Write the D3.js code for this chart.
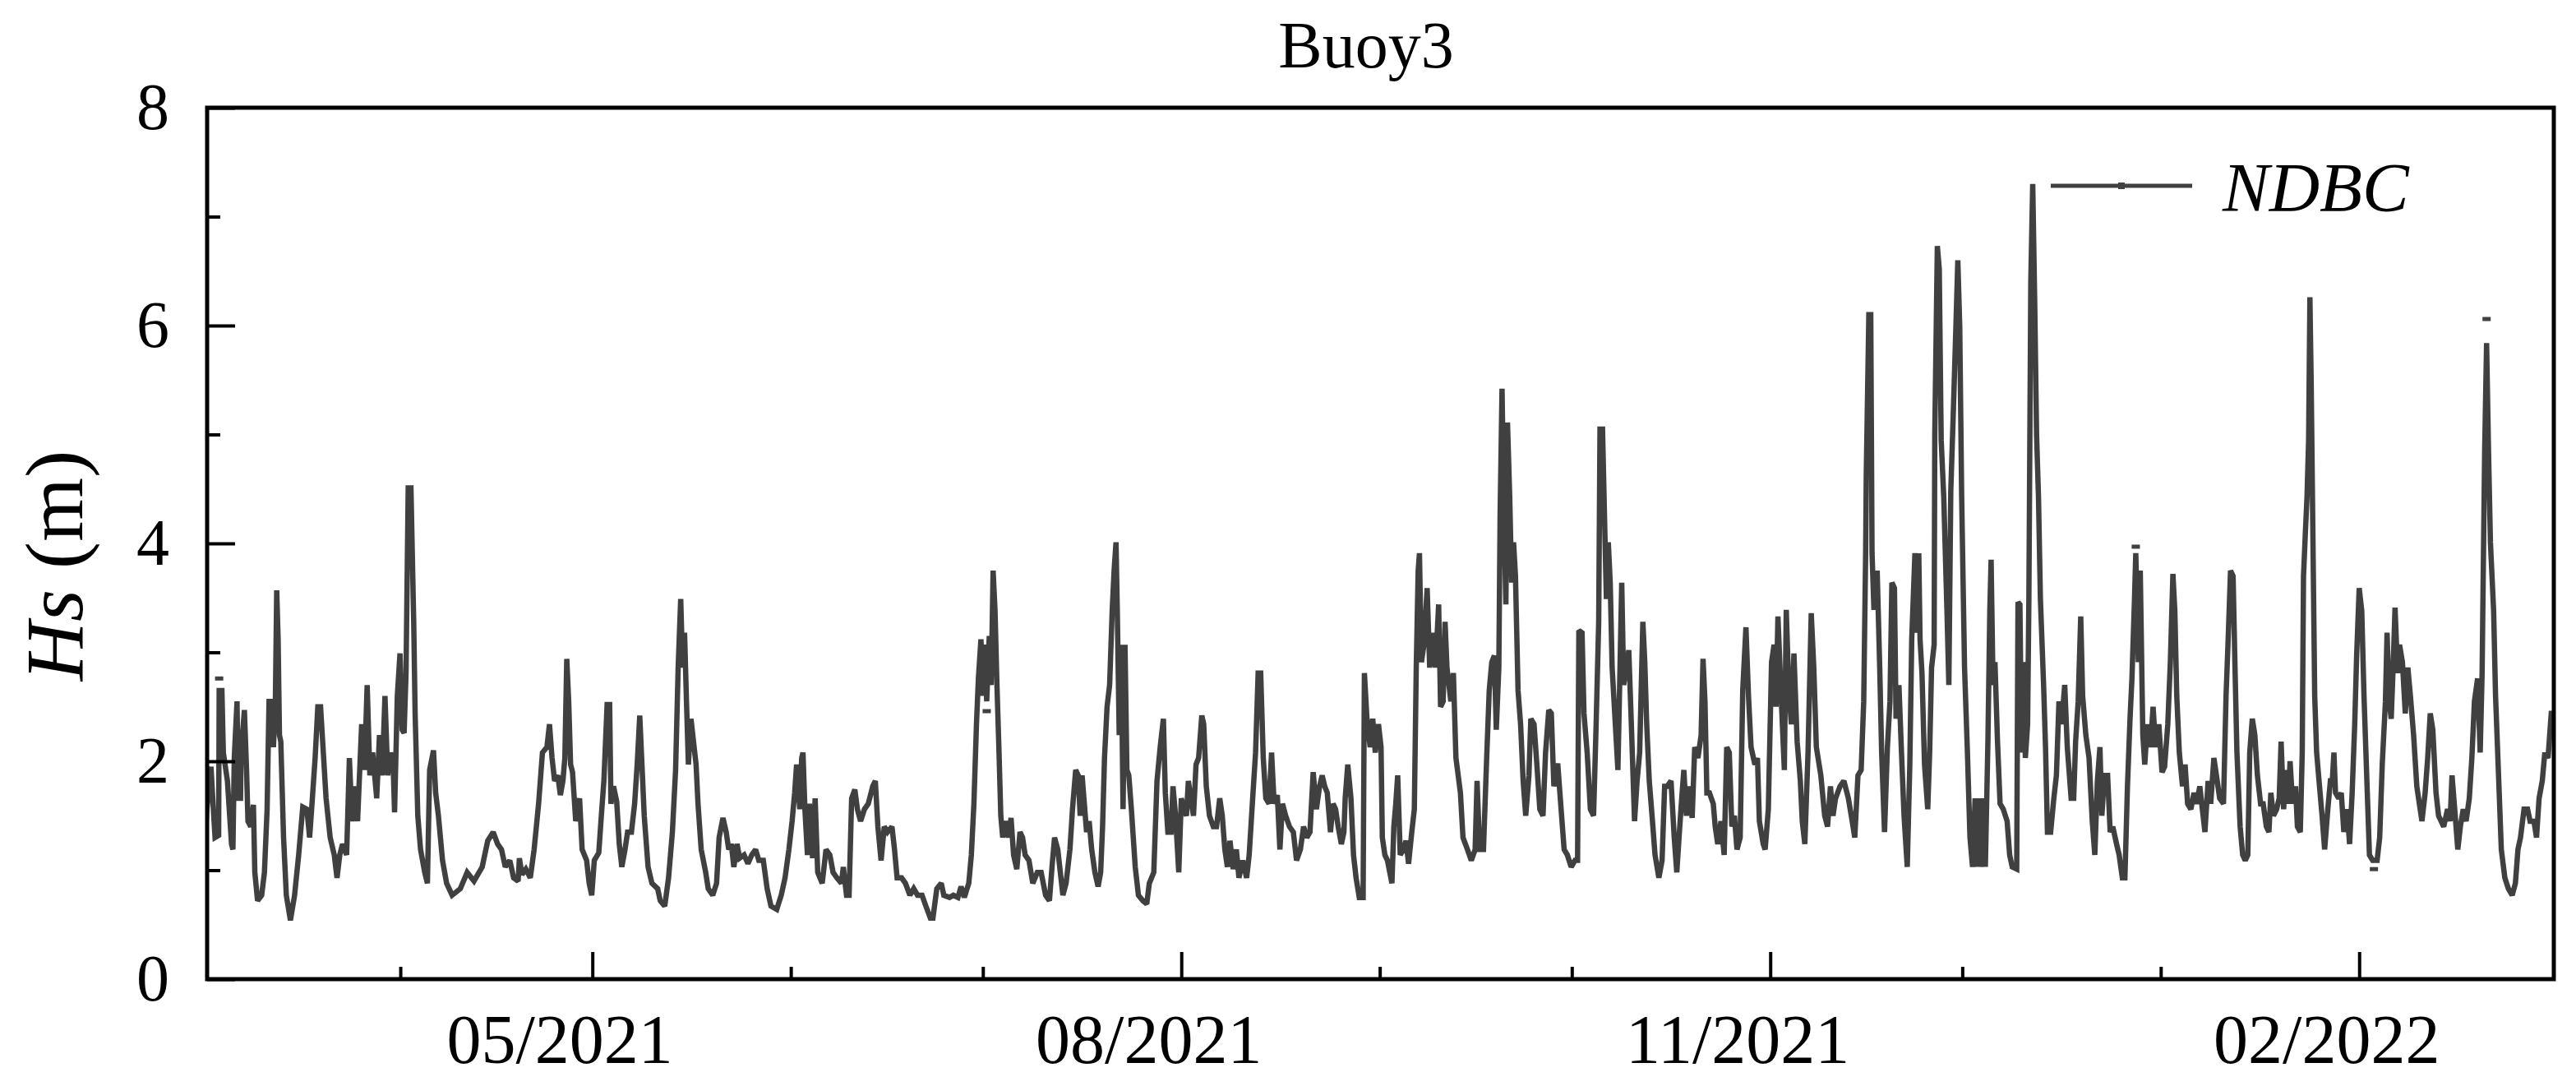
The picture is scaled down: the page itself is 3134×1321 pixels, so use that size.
<!DOCTYPE html>
<html><head><meta charset="utf-8">
<script src="https://cdn.jsdelivr.net/npm/d3@7/dist/d3.min.js"></script>
<style>
body{margin:0;background:#fff}
svg{display:block}
text{font-family:"Liberation Serif","Times New Roman",serif;fill:#000}
</style></head>
<body><svg id="chart" width="3134" height="1321"></svg>
<script>
// ---- data (day offsets from baseDate, significant wave height in m) ----
const baseDate = Date.UTC(2021, 2, 1);
const title = "Buoy3";
const seriesName = "NDBC";
const yMajorTicks = [0, 2, 4, 6, 8];
const yMinorTicks = [1, 3, 5, 7];
const xLabelFormat = "%m/%Y";

const seg1Days = [0.35,0.78,1.42,1.85,2.06,2.62,2.70,3.13,3.35,3.99,4.63,4.85,5.06,5.49,5.70,6.04,6.13,6.64,6.98,7.20,7.63,8.05,8.27,8.70,9.34,9.77,10.19,10.49,10.92,11.18,11.48,11.69,11.91,12.12,12.33,12.76,13.19,13.83,14.48,15.12,15.76,16.40,16.83,17.26,17.69,18.11,18.54,18.97,19.40,20.04,20.68,21.11,21.54,21.97,22.61,23.04,23.46,23.89,24.32,24.96,25.39,25.82,26.24,26.67,27.31,27.74,28.17,28.60,29.03,29.46,29.88,30.10,30.53,30.95,31.29,31.59,31.89,32.23,32.66,33.09,33.31,33.73,34.16,34.81,35.23,35.58,36.18,36.52,36.95,37.59,38.23,39.09,40.37,41.44,42.51,43.79,44.65];
const seg1Hs   = [1.14,1.56,1.95,1.50,1.30,1.32,2.65,2.65,2.08,1.82,1.24,1.19,2.03,2.55,1.66,1.66,2.08,2.47,1.92,1.45,1.40,1.60,0.98,0.72,0.77,0.98,1.56,2.55,2.55,2.13,2.55,3.57,3.12,2.24,2.18,1.30,0.77,0.54,0.77,1.14,1.58,1.56,1.30,1.66,2.03,2.50,2.50,2.08,1.66,1.30,1.14,0.93,1.14,1.24,1.14,2.03,1.45,1.77,1.45,2.34,1.92,2.70,1.87,2.08,1.66,2.24,1.87,2.60,1.87,2.08,1.97,1.53,2.60,2.99,2.29,2.26,2.81,4.51,4.51,3.28,2.44,1.50,1.19,0.98,0.88,1.92,2.10,1.71,1.50,1.09,0.88,0.77,0.83,0.98,0.90,1.03,1.27];

const seg2Days = [45.5,46.2,46.8,47.4,48.1,48.7,49.4,49.6,50.0,50.6,51.3,51.9,52.6,53.2,53.9,54.3,54.7,55.1,55.6,56.0,56.4,56.7,57.0,57.3,57.6,57.9,58.4,59.0,59.4,60.1,60.5,60.9,61.3,62.0,62.4,62.8,63.3,63.7,63.9,64.3,64.8,65.2,65.6,66.1,66.5,67.1,67.6,68.0,68.4,68.7,69.1,69.7,70.3,71.2,71.6,72.3,72.9,73.5,74.0,74.4,74.8,75.1,75.4,75.7,76.0,76.4,76.8,77.2,77.5,78.0,78.7,79.1,79.8,80.4,80.8,81.4,81.9,82.3,82.7,83.1,83.6,84.0,84.7,85.3,85.9,86.5,87.0,87.7,88.3,88.9,89.8,90.5,91.1];
const seg2Hs   = [1.35,1.24,1.19,1.03,1.09,0.93,0.90,1.11,0.96,1.01,0.93,1.19,1.61,2.08,2.13,2.34,2.03,1.82,1.87,1.69,1.82,2.03,2.94,2.55,1.97,1.90,1.45,1.66,1.19,1.09,0.88,0.77,1.09,1.16,1.50,1.82,2.52,2.52,1.61,1.77,1.63,1.24,1.03,1.19,1.35,1.35,1.61,1.97,2.42,2.03,1.50,1.03,0.88,0.83,0.72,0.67,0.93,1.35,1.92,2.86,3.49,2.86,3.18,2.55,1.97,2.39,2.18,1.97,1.61,1.19,0.98,0.83,0.77,0.88,1.30,1.48,1.35,1.19,1.24,1.03,1.24,1.11,1.14,1.06,1.14,1.19,1.09,1.09,0.83,0.67,0.64,0.77,0.93];

const seg3Days = [91.7,92.2,92.6,92.9,93.4,93.7,93.9,94.2,94.6,94.9,95.4,95.8,96.2,96.9,97.5,98.1,98.6,99.2,99.9,100.2,100.7,101.1,101.5,102.0,102.4,102.9,103.5,104.1,104.8,105.2,105.6,106.1,106.6,107.1,107.8,108.2,108.6,109.3,109.9,110.6,111.2,111.8,112.5,113.1,113.8,114.2,114.8,115.5,115.9,116.8,117.4,118.1,118.6,119.1,119.8,120.2,120.6,121.0,121.3,121.7,122.0,122.3,122.6,123.0,123.3,123.6,123.9,124.2,124.5,124.8,125.1,125.5,126.0,126.4,126.8,127.3,127.8,128.2,128.6,129.2,129.8,130.5,131.1,131.8,132.4,132.8,133.2,133.7,134.1,134.5,135.0,135.6,136.0,136.5,136.9,137.2,137.5];
const seg3Hs   = [1.19,1.45,1.71,1.97,1.56,2.03,2.08,1.56,1.14,1.61,1.11,1.66,0.98,0.88,1.19,1.14,0.98,0.93,0.88,1.03,0.77,0.77,1.66,1.74,1.56,1.45,1.56,1.61,1.77,1.82,1.40,1.09,1.40,1.35,1.40,1.19,0.93,0.93,0.88,0.77,0.83,0.77,0.77,0.67,0.56,0.56,0.83,0.88,0.77,0.75,0.77,0.75,0.85,0.75,0.88,1.14,1.61,2.34,2.76,3.12,2.60,3.07,2.55,3.15,2.70,3.75,3.38,2.70,2.13,1.50,1.30,1.45,1.30,1.48,1.14,1.01,1.35,1.30,1.14,1.09,0.88,0.98,0.98,0.77,0.72,1.03,1.30,1.19,0.98,0.77,0.88,1.19,1.56,1.92,1.87,1.50,1.87];

const seg4Days = [138.2,138.6,139.0,139.5,140.0,140.4,140.7,141.0,141.4,141.8,142.2,142.5,142.8,143.0,143.3,143.6,143.9,144.2,144.5,144.8,145.2,145.8,146.3,147.0,147.6,148.0,148.7,149.2,149.7,150.2,150.5,150.9,151.4,151.7,152.1,152.6,153.0,153.4,153.8,154.1,154.6,154.9,155.3,155.7,156.2,156.5,156.9,157.4,158.0,158.5,159.0,159.4,159.8,160.2,160.6,161.1,161.6,162.0,162.6,163.2,163.6,164.2,164.6,165.0,165.4,165.8,166.2,166.7,167.1,167.5,168.0,168.4,168.8,169.3,169.9,170.5,171.0,171.6,172.1,172.6,173.1,173.6,174.1,174.6,175.0,175.4,175.8,176.3,176.7,177.1,177.5,178.0,178.4,178.6,179.0,179.5,179.9,180.3,180.8,181.4,181.6,182.0,182.5,182.9,183.3,183.8];
const seg4Hs   = [1.35,1.45,1.19,0.98,0.85,0.98,1.40,2.03,2.50,2.70,3.38,3.75,4.01,3.38,2.24,3.07,1.56,3.07,1.92,1.87,1.56,1.03,0.77,0.72,0.69,0.88,0.98,1.82,2.13,2.39,1.71,1.35,1.35,1.77,1.50,0.98,1.66,1.56,1.50,1.82,1.61,1.50,1.97,2.03,2.42,2.34,1.77,1.50,1.40,1.40,1.66,1.50,1.19,1.03,1.27,1.01,1.19,0.93,1.09,0.93,1.14,1.71,2.08,2.81,2.81,2.03,1.66,1.61,2.08,1.61,1.69,1.19,1.61,1.50,1.40,1.35,1.09,1.19,1.40,1.30,1.35,1.90,1.56,1.77,1.87,1.77,1.71,1.35,1.61,1.56,1.40,1.24,1.35,1.66,1.97,1.66,1.14,0.93,0.75,0.75,2.81,2.39,2.13,2.39,2.08,2.34];

const seg5Days = [184.2,184.4,184.8,185.2,185.9,186.2,186.5,186.8,187.2,187.7,188.1,188.5,189.0,189.4,189.7,190.0,190.2,190.5,190.9,191.4,191.8,192.3,192.7,193.2,193.5,193.9,194.2,194.5,195.1,195.5,195.9,196.6,197.0,197.7,198.3,198.9,199.2,199.6,200.2,200.7,201.1,201.5,201.9,202.2,202.6,202.8,203.1,203.4,203.7,203.95,204.3,204.6,204.9,205.2,205.6,206.0,206.4,206.8,207.3,207.6,208.1,208.6,209.0,209.5,209.9,210.4,210.8,211.2,211.8,212.2,212.8,213.3,213.9,214.5,214.9,215.1,215.6,215.9,216.4,216.9,217.4,217.8,218.2,218.4,218.8,219.1,219.4,219.7,220.0,220.3,220.8,221.2,221.8,222.1,222.5,222.9,223.3,223.8,224.2,224.6,225.1,225.4,225.7,226.1,226.6,227.0,227.6,228.1,228.5,228.9,229.5,230.0];
const seg5Hs   = [2.13,1.30,1.14,1.09,0.88,1.40,1.61,1.87,1.14,1.19,1.27,1.06,1.35,1.56,2.86,3.75,3.91,2.91,3.07,3.59,2.86,3.18,2.86,3.44,2.50,2.55,3.28,2.86,2.55,2.81,2.03,1.71,1.30,1.19,1.09,1.19,1.82,1.19,1.19,2.03,2.65,2.91,2.97,2.29,2.86,4.27,5.42,4.27,3.44,5.11,4.43,3.64,4.01,3.70,2.65,2.34,1.82,1.50,1.87,2.39,2.34,1.92,1.56,1.50,2.08,2.47,2.44,1.77,1.98,1.66,1.19,1.14,1.03,1.09,1.09,3.20,3.18,2.44,2.08,1.56,1.50,2.34,3.28,5.05,5.05,4.27,3.49,4.01,3.64,2.86,2.34,1.92,3.64,2.70,2.86,3.02,2.34,1.45,1.82,2.08,3.28,2.91,2.34,1.82,1.45,1.14,0.93,1.09,1.77,1.77,1.82,1.30];

const seg6Days = [230.4,230.75,231.05,231.5,231.9,232.3,232.8,233.2,233.7,234.2,234.5,234.8,235.1,235.5,236.1,236.4,236.8,237.3,237.8,238.2,238.6,239.0,239.4,239.8,240.3,240.7,241.2,241.6,242.0,242.6,243.0,243.3,243.9,244.2,244.7,245.2,245.6,245.9,246.2,246.7,247.2,247.5,247.9,248.3,248.7,249.2,249.7,250.0,250.4,250.9,251.4,251.8,252.2,252.9,253.5,253.95,254.4,254.8,255.2,255.9,256.5,257.2,257.8,258.2,258.7,259.2,259.6,259.9,260.0,260.4,260.7,260.9,261.2,261.7,262.1,262.4,262.85,263.3,263.7,264.0,264.4,264.65,265.1,265.5,265.9,266.4,266.8,267.1,267.6,267.9,268.2,268.4,268.7,269.1,269.6,269.9,270.2,270.6,270.7,271.1,271.4,271.7,272.1,272.6,272.9,273.2,273.6,274.0,274.3,274.6,274.9,275.35,275.8,276.2];
const seg6Hs   = [0.98,1.30,1.56,1.92,1.50,1.77,1.48,2.13,2.03,2.24,2.94,2.55,1.71,1.71,1.61,1.40,1.24,1.45,1.14,2.13,2.08,1.40,1.50,1.19,1.30,2.65,3.23,2.60,2.13,1.97,2.03,1.45,1.24,1.19,1.56,2.91,3.07,2.50,3.33,2.60,1.92,3.39,2.65,2.34,2.99,2.18,1.82,1.45,1.24,2.08,3.36,2.86,2.13,1.87,1.50,1.40,1.77,1.50,1.66,1.77,1.82,1.66,1.45,1.30,1.87,1.92,2.55,3.91,4.64,6.10,6.10,3.91,3.39,3.75,2.86,2.08,1.35,2.13,2.55,3.64,3.59,2.39,2.70,2.08,1.50,1.03,1.97,3.12,3.91,3.18,3.91,3.12,2.81,1.97,1.56,2.08,2.86,3.07,5.00,6.73,6.52,4.95,4.43,3.39,2.70,4.48,5.21,5.99,6.60,5.99,4.43,2.86,2.08,1.30];

const seg7Days = [276.6,277.0,277.3,277.6,277.9,278.3,278.6,279.0,279.3,279.5,279.8,280.1,280.5,280.9,281.4,282.0,282.4,282.8,283.5,283.7,284.0,284.25,284.55,284.85,285.2,285.4,285.7,286.0,286.3,286.6,286.9,287.2,287.7,288.0,288.3,288.8,289.3,289.7,290.1,290.5,291.0,291.4,292.0,292.4,292.7,293.1,293.5,293.8,294.3,294.8,295.3,295.7,296.1,296.5,296.8,297.2,297.7,298.1,298.5,299.1,299.5,300.0,300.4,300.8,301.2,301.5,301.9,302.1,302.5,302.8,303.2,303.5,303.9,304.4,304.8,305.2,305.7,306.2,306.6,307.1,307.5,307.9,308.2,308.5,308.9,309.4,309.8,310.2,310.7,311.2,311.6,312.1,312.5,312.9,313.4,313.8,314.3,314.7,315.2,315.8,316.2,316.5,316.9,317.3,317.6,317.9,318.4,318.8,319.2,319.6,319.9,320.3,320.7,321.1,321.6,322.0,322.5];
const seg7Hs   = [1.03,1.66,1.03,1.66,1.03,1.66,1.03,2.18,3.39,3.85,2.70,2.91,2.18,1.61,1.56,1.45,1.14,1.03,1.01,3.46,3.44,2.08,2.91,2.03,2.34,3.49,6.41,7.30,6.26,5.00,4.43,3.49,2.70,2.13,1.35,1.35,1.66,1.87,2.55,2.34,2.70,2.13,1.66,1.66,2.18,2.55,3.33,2.60,2.24,2.03,1.45,1.14,1.82,2.13,1.50,1.87,1.87,1.35,1.40,1.24,1.14,0.93,0.93,1.77,2.39,2.76,3.49,3.91,2.91,3.75,2.24,1.97,2.34,2.13,2.50,2.13,2.34,1.90,1.95,2.34,2.91,3.72,3.38,2.60,2.08,1.77,1.97,1.61,1.56,1.71,1.61,1.77,1.56,1.35,1.82,1.61,2.03,1.87,1.66,1.61,2.60,3.07,3.75,3.70,2.86,2.08,1.40,1.14,1.09,1.14,2.08,2.39,2.24,1.87,1.61,1.61,1.40];

const seg8Days = [322.9,323.2,323.6,324.1,324.5,324.8,325.2,325.5,325.9,326.2,326.6,327.05,327.35,327.8,328.1,328.3,328.6,328.85,329.1,329.3,329.5,329.8,330.05,330.35,330.8,331.2,331.6,332.1,332.5,332.8,333.05,333.3,333.8,334.2,334.6,335.1,335.5,335.9,336.3,336.6,337.0,337.4,337.75,338.2,338.6,339.1,339.8,340.2,340.6,341.1,341.35,341.7,342.0,342.3,342.6,343.0,343.3,343.75,344.2,344.6,345.0,345.5,346.0,346.4,346.8,347.3,347.7,348.1,348.5,349.0,349.4,349.8,350.2,350.8,351.2,351.5,352.0,352.4,352.8,353.25,353.7,354.2,354.6,355.0,355.5,355.9,356.2,356.6,356.9,357.2,357.5,358.0,358.3,358.8,359.2,359.75,360.3,360.9,361.4,361.8,362.2,362.75,363.3,363.7,364.3,364.7,365.1,365.6,366.0,366.5,367.0,367.4];
const seg8Hs   = [1.35,1.71,1.50,1.56,1.66,2.18,1.56,1.92,1.61,2.00,1.61,1.77,1.40,1.35,2.08,3.70,4.11,4.43,4.95,6.26,5.47,3.91,2.60,2.08,1.77,1.50,1.19,1.56,1.82,1.82,2.08,1.71,1.66,1.71,1.35,1.56,1.24,1.71,2.34,2.97,3.59,3.38,2.60,1.82,1.14,1.09,1.09,1.30,1.97,2.55,3.18,2.55,2.39,2.86,3.41,2.81,3.07,2.91,2.44,2.86,2.60,2.24,1.77,1.61,1.45,1.71,2.03,2.44,2.29,1.71,1.50,1.45,1.40,1.56,1.45,1.87,1.50,1.19,1.40,1.56,1.45,1.66,2.03,2.55,2.76,2.08,2.81,4.85,5.84,4.85,4.01,3.38,2.60,1.82,1.19,0.93,0.83,0.77,0.88,1.19,1.30,1.56,1.56,1.45,1.45,1.30,1.66,1.82,2.08,2.03,2.44,2.44];

// isolated samples (shown as short dashes, separated from the line by gaps)
const isolatedDays = [2.70, 122.6, 302.1, 339.3, 356.9];
const isolatedHs   = [2.76, 2.46, 3.97, 1.01, 6.06];

// ---- build ----
const dayMs = 864e5;
const toDate = d => new Date(baseDate + d * dayMs);
const segDays = [seg1Days,seg2Days,seg3Days,seg4Days,seg5Days,seg6Days,seg7Days,seg8Days];
const segHs   = [seg1Hs,seg2Hs,seg3Hs,seg4Hs,seg5Hs,seg6Hs,seg7Hs,seg8Hs];
const series = [];
segDays.forEach((ds, i) => ds.forEach((d, j) => series.push({t: toDate(d), v: segHs[i][j]})));
const isolated = isolatedDays.map((d, i) => ({t: toDate(d), v: isolatedHs[i]}));

const svg = d3.select("#chart");
const L = 252, R = 3107, T = 131, B = 1191;
const x = d3.scaleUtc()
  .domain([toDate(0.82), toDate(367.4)])
  .range([L, R]);
const y = d3.scaleLinear().domain([0, 8]).range([B, T]);
const ink = "#000";
const lineCol = "#404040";

svg.append("defs").append("clipPath").attr("id", "clip")
  .append("rect").attr("x", L).attr("y", T).attr("width", R - L).attr("height", B - T);

// data line
svg.append("path").datum(series)
  .attr("clip-path", "url(#clip)")
  .attr("fill", "none").attr("stroke", lineCol).attr("stroke-width", 6.5)
  .attr("stroke-linejoin", "miter").attr("stroke-miterlimit", 2)
  .attr("d", d3.line().x(d => x(d.t)).y(d => y(d.v)));

svg.append("g").attr("clip-path", "url(#clip)").selectAll("rect").data(isolated).join("rect")
  .attr("x", d => x(d.t) - 5).attr("y", d => y(d.v) - 2.5).attr("width", 10).attr("height", 5)
  .attr("fill", lineCol);

// axes
const months = x.ticks(d3.utcMonth.every(1));
const majorMonths = months.filter(d => d.getUTCMonth() % 3 === 1);
const lastMajor = majorMonths[majorMonths.length - 1];
const minorMonths = months.filter(d => d.getUTCMonth() % 3 !== 1 && d <= lastMajor);
const fmt = d3.utcFormat(xLabelFormat);

const gxMinor = svg.append("g").attr("transform", `translate(0,${B})`)
  .call(d3.axisBottom(x).tickValues(minorMonths).tickSize(-15).tickFormat(""));
const gx = svg.append("g").attr("transform", `translate(0,${B})`)
  .call(d3.axisBottom(x).tickValues(majorMonths).tickSize(-33).tickPadding(42).tickFormat(fmt));
[gx, gxMinor].forEach(g => {
  g.select(".domain").remove();
  g.selectAll(".tick line").attr("stroke", ink).attr("stroke-width", 4);
});
gx.selectAll(".tick text").attr("font-size", 84).attr("font-family", "Liberation Serif")
  .attr("dx", -40).attr("fill", ink);

const gyMinor = svg.append("g").attr("transform", `translate(${L},0)`)
  .call(d3.axisLeft(y).tickValues(yMinorTicks).tickSize(-16).tickFormat(""));
const gy = svg.append("g").attr("transform", `translate(${L},0)`)
  .call(d3.axisLeft(y).tickValues(yMajorTicks).tickSize(-34).tickPadding(46).tickFormat(d3.format("d")));
[gy, gyMinor].forEach(g => {
  g.select(".domain").remove();
  g.selectAll(".tick line").attr("stroke", ink).attr("stroke-width", 4);
});
gy.selectAll(".tick text").attr("font-size", 80).attr("font-family", "Liberation Serif").attr("fill", ink);

// frame
svg.append("rect").attr("x", L).attr("y", T).attr("width", R - L).attr("height", B - T)
  .attr("fill", "none").attr("stroke", ink).attr("stroke-width", 5);

// title
svg.append("text").attr("x", 1662).attr("y", 82).attr("text-anchor", "middle")
  .attr("font-size", 80).text(title);

// y label
const yl = svg.append("text").attr("transform", "translate(100,688) rotate(-90)")
  .attr("text-anchor", "middle").attr("font-size", 100);
yl.append("tspan").attr("font-style", "italic").text("Hs");
yl.append("tspan").text(" (m)");

// legend
const lg = svg.append("g");
lg.append("line").attr("x1", 2495).attr("x2", 2667).attr("y1", 226).attr("y2", 226)
  .attr("stroke", lineCol).attr("stroke-width", 5);
lg.append("rect").attr("x", 2577).attr("y", 222).attr("width", 8).attr("height", 8).attr("fill", lineCol);
lg.append("text").attr("x", 2704).attr("y", 257).attr("font-size", 85).attr("font-style", "italic")
  .text(seriesName);
</script></body></html>
